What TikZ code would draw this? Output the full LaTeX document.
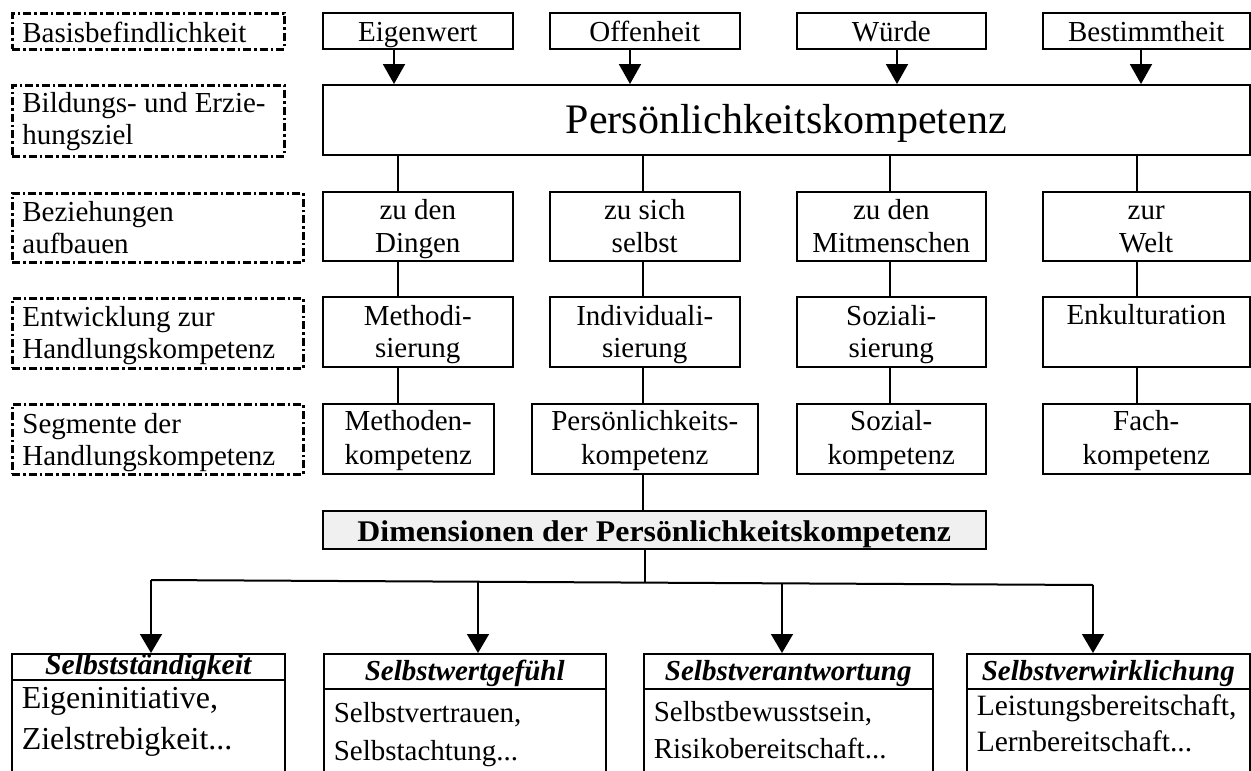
\documentclass[tikz,border=0pt]{standalone}
\usepackage{fontspec}
\setmainfont{Liberation Serif}
\usetikzlibrary{arrows.meta}
\tikzset{
  basenode/.style={inner sep=0pt, anchor=north west, font=\fontsize{29}{33}\selectfont},
  sbox/.style={basenode, draw, line width=1.5pt},
  dbox/.style={basenode, draw, line width=2.8pt, dash pattern=on 8pt off 3pt on 2.5pt off 3pt},
  gbox/.style={sbox, fill=black!6},
  ln/.style={line width=1.3pt},
  hl/.style={line width=2pt},
  arr/.style={line width=2pt, -{Triangle[length=20pt,width=22pt]}},
  arrb/.style={line width=1.6pt, -{Triangle[length=19pt,width=22pt]}},
}
% name, style, x, y, w, h, first-baseline offset, text
\newcommand\cbox[8]{\node[#2] (#1) at (#3,#4) {\parbox[c][#6pt][t]{#5pt}{\centering\rule{0pt}{#7pt}#8\par}};}
\newcommand\lbox[8]{\node[#2] (#1) at (#3,#4) {\parbox[c][#6pt][t]{#5pt}{\raggedright\leftskip=10pt\rule{0pt}{#7pt}#8\par}};}
\begin{document}
\begin{tikzpicture}[x=1pt,y=-1pt]
\useasboundingbox (0,0) rectangle (1251,771);
% left labels
\lbox{l1}{dbox}{11}{12}{272}{36}{29}{Basisbefindlichkeit}
\lbox{l2}{dbox}{11}{84}{272}{71}{27}{Bildungs- und Erzie-\\[-1pt]hungsziel}
\lbox{l3}{dbox}{11}{192}{291}{69}{28}{Beziehungen\\[-1pt]aufbauen}
\lbox{l4}{dbox}{11}{297}{291}{70}{28}{Entwicklung zur\\[-1pt]Handlungskompetenz}
\lbox{l5}{dbox}{11}{403}{291}{70}{29}{Segmente der\\[-1pt]Handlungskompetenz}
% top row
\cbox{t1}{sbox}{322}{12}{190}{36}{29}{Eigenwert}
\cbox{t2}{sbox}{549}{12}{190}{36}{29}{Offenheit}
\cbox{t3}{sbox}{796}{12}{189}{36}{29}{Würde}
\cbox{t4}{sbox}{1042}{12}{207}{36}{29}{Bestimmtheit}
\cbox{pk}{sbox}{322}{84}{927}{70}{49}{\fontsize{42}{46}\selectfont Persönlichkeitskompetenz}
% row 3
\cbox{r31}{sbox}{322}{191}{190}{69}{28}{zu den\\Dingen}
\cbox{r32}{sbox}{549}{191}{190}{69}{28}{zu sich\\selbst}
\cbox{r33}{sbox}{796}{191}{189}{69}{28}{zu den\\Mitmenschen}
\cbox{r34}{sbox}{1042}{191}{207}{69}{28}{zur\\Welt}
% row 4
\cbox{r41}{sbox}{322}{296}{190}{70}{29}{Methodi-\\[-1pt]sierung}
\cbox{r42}{sbox}{549}{296}{190}{70}{29}{Individuali-\\[-1pt]sierung}
\cbox{r43}{sbox}{796}{296}{189}{70}{29}{Soziali-\\[-1pt]sierung}
\cbox{r44}{sbox}{1042}{296}{207}{70}{28}{Enkulturation}
% row 5
\cbox{r51}{sbox}{322}{403}{171}{70}{27}{Methoden-\\[1pt]kompetenz}
\cbox{r52}{sbox}{531}{403}{226}{70}{27}{Persönlichkeits-\\[1pt]kompetenz}
\cbox{r53}{sbox}{796}{403}{189}{70}{27}{Sozial-\\[1pt]kompetenz}
\cbox{r54}{sbox}{1042}{403}{207}{70}{27}{Fach-\\[1pt]kompetenz}
% dimensions
\cbox{dim}{gbox}{322}{510}{663}{38}{31}{\bfseries\fontsize{30}{33}\selectfont\scalebox{1.06}[1]{Dimensionen der Persönlichkeitskompetenz}}
% bottom boxes
\cbox{h1}{sbox}{11}{653}{273}{26}{20}{\bfseries\itshape\fontsize{29.7}{33}\selectfont Selbstständigkeit}
\lbox{b1}{sbox}{11}{679}{273}{121}{29}{\fontsize{32}{36}\selectfont Eigeninitiative,\\[5pt]Zielstrebigkeit...}
\cbox{h2}{sbox}{323}{653}{282}{35}{27}{\bfseries\itshape Selbstwertgefühl}
\lbox{b2}{sbox}{323}{688}{282}{112}{34}{Selbstvertrauen,\\[5pt]Selbstachtung...}
\cbox{h3}{sbox}{643}{653}{289}{35}{27}{\bfseries\itshape Selbstverantwortung}
\lbox{b3}{sbox}{643}{688}{289}{112}{33}{Selbstbewusstsein,\\[4pt]Risikobereitschaft...}
\cbox{h4}{sbox}{966}{653}{283}{35}{27}{\bfseries\itshape Selbstverwirklichung}
\lbox{b4}{sbox}{966}{688}{283}{112}{27}{\fontsize{29.5}{33}\selectfont Leistungsbereitschaft,\\[3pt]Lernbereitschaft...}
% coordinates
\coordinate (a1) at (394,0); \coordinate (a2) at (630,0);
\coordinate (a3) at (897,0); \coordinate (a4) at (1141,0);
\coordinate (c1) at (398,0); \coordinate (c2) at (643,0);
\coordinate (c3) at (890,0); \coordinate (c4) at (1137,0);
\coordinate (j1) at (151,580); \coordinate (j2) at (478,581.7);
\coordinate (jc) at (645,582.6); \coordinate (j3) at (782,583.3);
\coordinate (j4) at (1093,585);
% top arrows
\draw[arr] (t1.south -| a1) -- (pk.north -| a1);
\draw[arr] (t2.south -| a2) -- (pk.north -| a2);
\draw[arr] (t3.south -| a3) -- (pk.north -| a3);
\draw[arr] (t4.south -| a4) -- (pk.north -| a4);
% vertical connectors
\draw[ln] (pk.south -| c1) -- (r31.north -| c1);
\draw[ln] (r31.south -| c1) -- (r41.north -| c1);
\draw[ln] (r41.south -| c1) -- (r51.north -| c1);
\draw[ln] (pk.south -| c2) -- (r32.north -| c2);
\draw[ln] (r32.south -| c2) -- (r42.north -| c2);
\draw[ln] (r42.south -| c2) -- (r52.north -| c2);
\draw[ln] (r52.south -| c2) -- (dim.north -| c2);
\draw[ln] (pk.south -| c3) -- (r33.north -| c3);
\draw[ln] (r33.south -| c3) -- (r43.north -| c3);
\draw[ln] (r43.south -| c3) -- (r53.north -| c3);
\draw[ln] (pk.south -| c4) -- (r34.north -| c4);
\draw[ln] (r34.south -| c4) -- (r44.north -| c4);
\draw[ln] (r44.south -| c4) -- (r54.north -| c4);
% bottom distribution
\draw[ln] (dim.south -| jc) -- (jc);
\draw[hl] (j1) -- (j4);
\draw[arrb] (j1) -- (j1 |- h1.north);
\draw[arrb] (j2) -- (j2 |- h2.north);
\draw[arrb] (j3) -- (j3 |- h3.north);
\draw[arrb] (j4) -- (j4 |- h4.north);
\end{tikzpicture}
\end{document}
